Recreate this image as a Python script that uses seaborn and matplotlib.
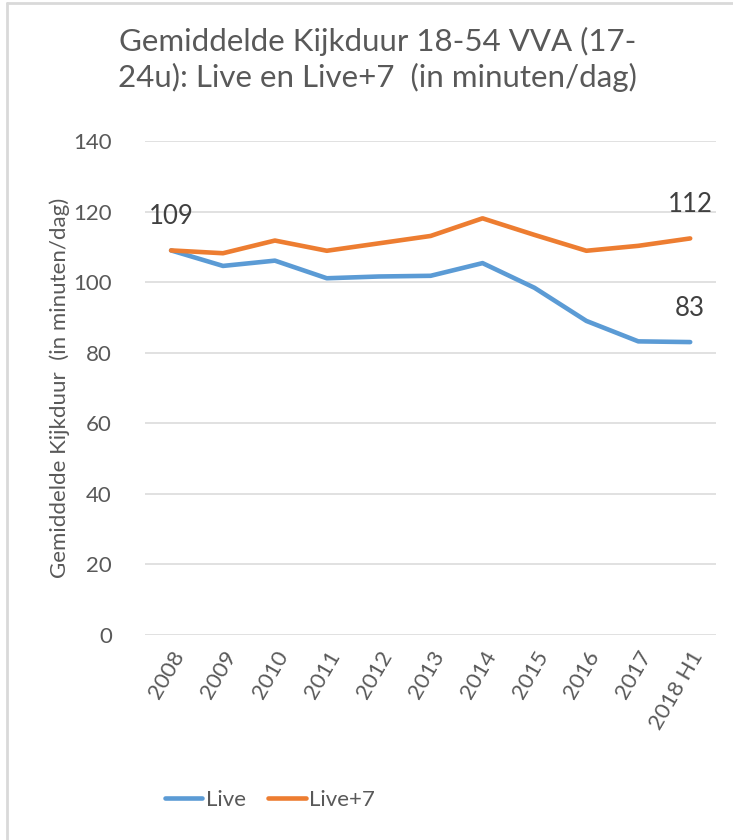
import pandas as pd
import matplotlib.pyplot as plt
import seaborn as sns
from matplotlib.lines import Line2D

# data
jaren = ["2008", "2009", "2010", "2011", "2012", "2013", "2014", "2015", "2016", "2017", "2018 H1"]
live = [109, 104.6, 106.1, 101.1, 101.6, 101.8, 105.4, 98.4, 89.0, 83.2, 83]
live7 = [109, 108.2, 111.8, 108.9, 111.0, 113.1, 118.1, 113.4, 108.9, 110.3, 112.4]
series = ["Live", "Live+7"]
kleuren = ["#5B9BD5", "#ED7D31"]
yticks = [0, 20, 40, 60, 80, 100, 120, 140]

df = pd.DataFrame({
    "jaar": jaren * 2,
    "serie": [series[0]] * len(jaren) + [series[1]] * len(jaren),
    "waarde": live + live7,
})

sns.set_theme(style="white")
plt.rcParams["font.family"] = ["Lato", "DejaVu Sans"]
tekst = "#595959"

fig = plt.figure(figsize=(7.33, 8.4), dpi=100)
ax = fig.add_axes([0.198, 0.2444, 0.779, 0.5876])

sns.lineplot(data=df, x="jaar", y="waarde", hue="serie", hue_order=series,
             palette=kleuren, linewidth=3.3, sort=False, ax=ax,
             solid_capstyle="round", solid_joinstyle="round")

ax.set_ylim(0, 140)
ax.set_xlim(-0.5, len(jaren) - 0.5)
ax.set_yticks(yticks)
ax.grid(axis="y", color="#D9D9D9", linewidth=1.1)
ax.grid(axis="x", visible=False)
for s in ax.spines.values():
    s.set_visible(False)
ax.tick_params(axis="both", length=0, labelsize=16, labelcolor=tekst)
ax.tick_params(axis="y", pad=24)
plt.setp(ax.get_xticklabels(), rotation=60, ha="right", rotation_mode="anchor")
ax.tick_params(axis="x", pad=9)

ax.set_xlabel("")
ax.set_ylabel("Gemiddelde Kijkduur  (in minuten/dag)", fontsize=16, color=tekst, labelpad=2)

# data labels
for i, v in [(0, live[0]), (len(jaren) - 1, live7[-1]), (len(jaren) - 1, live[-1])]:
    ax.annotate(f"{round(v)}", (jaren[i], v), xytext=(0, 19), textcoords="offset points",
                ha="center", va="baseline", fontsize=18.5, color="#404040")

fig.suptitle("Gemiddelde Kijkduur 18-54 VVA (17-\n24u): Live en Live+7  (in minuten/dag)",
             x=0.515, y=0.968, fontsize=22.5, color=tekst, linespacing=1.3)

ax.legend_.remove()
handles = [Line2D([], [], color=c, linewidth=3.3, solid_capstyle="round") for c in kleuren]
fig.legend(handles, series, loc="center", bbox_to_anchor=(0.368, 1 - 800 / 840),
           ncol=2, frameon=False, fontsize=16, labelcolor=tekst,
           handlelength=1.7, handletextpad=0.15, columnspacing=1.0)

# chart frame
fig.add_artist(Line2D([7 / 733, 7 / 733], [0, 1 - 3 / 840], color="#D9D9D9", linewidth=2, transform=fig.transFigure))
fig.add_artist(Line2D([7 / 733, 1], [1 - 3 / 840, 1 - 3 / 840], color="#D9D9D9", linewidth=2, transform=fig.transFigure))

fig.savefig("out.png", dpi=100)
